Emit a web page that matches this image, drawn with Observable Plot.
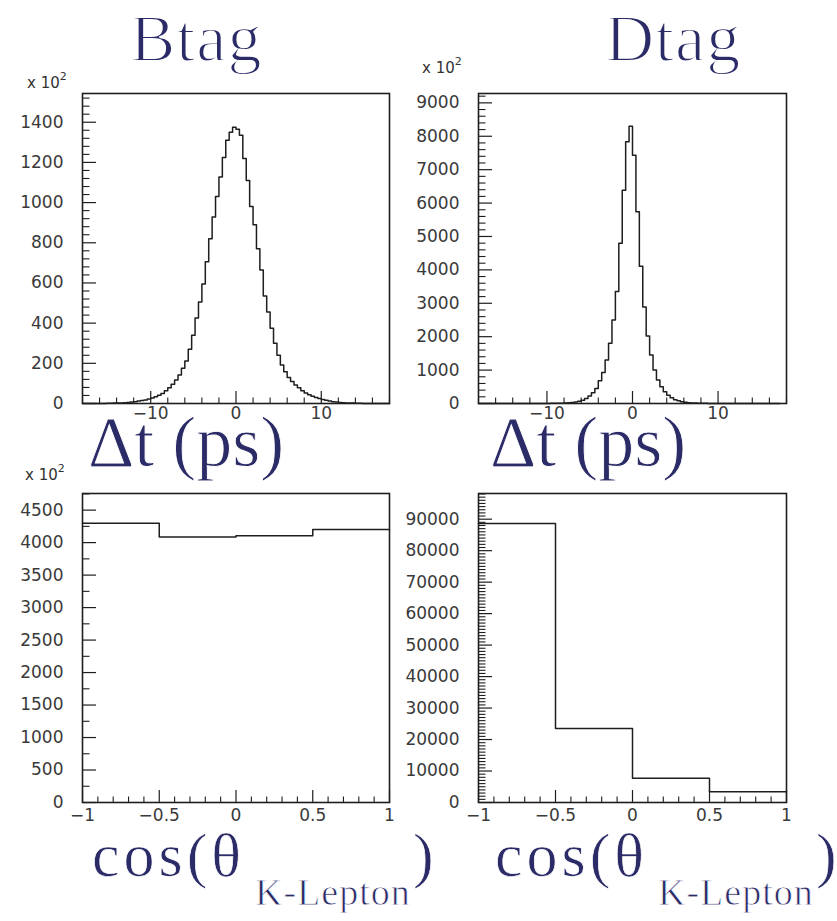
<!DOCTYPE html>
<html>
<head>
<meta charset="utf-8">
<script src="https://cdn.jsdelivr.net/npm/d3@7"></script>
<script src="https://cdn.jsdelivr.net/npm/@observablehq/plot@0.6"></script>
<style>
  html, body { margin: 0; padding: 0; background: #fff; }
  #page { position: relative; width: 837px; height: 921px; background: #fff; overflow: hidden; }
  .panel { position: absolute; }
  #overlay { position: absolute; left: 0; top: 0; pointer-events: none; }
</style>
</head>
<body>
<div id="page">
  <div class="panel" id="p1" style="left:0px;top:60px"></div>
  <div class="panel" id="p2" style="left:400px;top:60px"></div>
  <div class="panel" id="p3" style="left:0px;top:460px"></div>
  <div class="panel" id="p4" style="left:400px;top:460px"></div>
  <svg id="overlay" width="837" height="921">
    <g fill="#2b2b68" stroke="#ffffff" font-family="Liberation Serif, DejaVu Serif, serif">
      <text x="130" y="61" font-size="68" letter-spacing="1" stroke-width="1.8">Btag</text>
      <text x="605" y="61" font-size="68" letter-spacing="1" stroke-width="1.8">Dtag</text>
      <text x="88" y="466" font-size="72" stroke-width="0.9">Δt (ps)</text>
      <text x="490" y="466" font-size="72" stroke-width="0.9">Δt (ps)</text>
      <text x="92" y="876" font-size="62" letter-spacing="4" stroke-width="0.7">cos(θ</text>
      <text x="255" y="905" font-size="38" letter-spacing="1" stroke-width="0.8">K-Lepton</text>
      <text x="413" y="876" font-size="62" stroke-width="0.7">)</text>
      <text x="495" y="876" font-size="62" letter-spacing="4" stroke-width="0.7">cos(θ</text>
      <text x="658" y="905" font-size="38" letter-spacing="1" stroke-width="0.8">K-Lepton</text>
      <text x="816" y="876" font-size="62" stroke-width="0.7">)</text>
    </g>
    <g fill="#333" font-family="DejaVu Sans, sans-serif" font-size="15">
      <text x="27" y="88">x 10<tspan dy="-8" font-size="11">2</tspan></text>
      <text x="422" y="73">x 10<tspan dy="-8" font-size="11">2</tspan></text>
      <text x="25" y="480">x 10<tspan dy="-8" font-size="11">2</tspan></text>
    </g>
  </svg>
</div>
<script>
// ---- Data ----
const dtRange = [-18, 18];
const dtBinWidth = 0.4;

// Btag Δt histogram, counts in units of 10^2, 90 bins of 0.4 ps from -18 to 18
const btagDt = [
  0, 0, 0, 0, 0, 0, 0, 1, 1, 2, 2, 3, 4, 5, 7, 9, 12, 15, 18, 23, 28, 34, 41, 50, 63,
  78, 96, 117, 142, 175, 212, 270, 340, 425, 505, 595, 705, 820, 928, 1030, 1127, 1225, 1310, 1350, 1375,
  1365, 1335, 1220, 1110, 980, 890, 770, 665, 535, 455, 375, 300, 240, 192, 158, 130, 110, 92, 78, 64,
  52, 43, 36, 30, 25, 20, 16, 12, 9, 7, 5, 4, 3, 2, 2, 1, 1, 0, 0, 0, 0, 0, 0, 0, 0
];

// Dtag Δt histogram, counts in units of 10^2
const dtagDt = [
  0, 0, 0, 0, 0, 0, 0, 0, 0, 0, 0, 0, 0, 0, 0, 0,
  1, 1, 1, 2, 3, 4, 5, 8, 11, 16, 23, 33, 48, 70, 100, 150, 225, 320, 450, 680, 930, 1300, 1800, 2500,
  3350, 4800, 6385, 7833, 8302,
  7434, 5737, 4110, 2892, 2020, 1450, 1000, 700, 500, 350, 249, 170, 115, 80, 55, 38, 26, 18, 12, 8,
  6, 4, 3, 2, 1, 1, 1, 0, 0, 0, 0, 0, 0, 0, 0, 0, 0, 0, 0, 0, 0, 0, 0
];

// cos(theta K-lepton) histograms
const cosEdges = [-1, -0.5, 0, 0.5, 1];
const btagCos = [4300, 4085, 4105, 4200];   // units of 10^2
const dtagCos = [88630, 23500, 7730, 3390];

// Axis ticks / labels
const dtMajorTicks = [-10, 0, 10];
const cosMajorTicks = [-1, -0.5, 0, 0.5, 1];
const btagDtYTicks = [0, 200, 400, 600, 800, 1000, 1200, 1400];
const dtagDtYTicks = [0, 1000, 2000, 3000, 4000, 5000, 6000, 7000, 8000, 9000];
const btagCosYTicks = [0, 500, 1000, 1500, 2000, 2500, 3000, 3500, 4000, 4500];
const dtagCosYTicks = [0, 10000, 20000, 30000, 40000, 50000, 60000, 70000, 80000, 90000];

// ---- Helpers ----
function dtEdges(n) {
  return d3.range(n + 1).map(i => +(dtRange[0] + i * dtBinWidth).toFixed(2));
}
function stepPoints(edges, counts) {
  const pts = counts.map((c, i) => ({x: edges[i], y: c}));
  pts.push({x: edges[counts.length], y: counts[counts.length - 1]});
  return pts;
}
function minorTicks(lo, hi, step, majors) {
  const set = new Set(majors.map(v => +v.toFixed(4)));
  return d3.range(lo, hi + step / 2, step).map(v => +v.toFixed(4)).filter(v => !set.has(v) && v >= lo && v <= hi);
}

const ink = "#1e1e1e";
const labelInk = "#3a3a3a";
function panel(o) {
  return Plot.plot({
    width: o.width, height: o.height,
    marginLeft: o.ml, marginRight: o.mr, marginTop: o.mt, marginBottom: o.mb,
    style: {background: "transparent", overflow: "visible", maxWidth: "none",
            fontFamily: "DejaVu Sans, sans-serif", fontSize: "17px", color: ink},
    x: {domain: o.xDomain},
    y: {domain: o.yDomain},
    marks: [
      Plot.lineY(o.data, {x: "x", y: "y", curve: "step-after", stroke: ink, strokeWidth: 1.5}),
      Plot.axisX(o.xMajor, {anchor: "top", frameAnchor: "bottom", tickSize: 13, fill: "none", label: null, stroke: ink, strokeWidth: 1.2}),
      Plot.axisX(o.xMinor, {anchor: "top", frameAnchor: "bottom", tickSize: 6.5, fill: "none", label: null, stroke: ink, strokeWidth: 1.1}),
      Plot.axisX(o.xMajor, {anchor: "bottom", tickSize: 0, tickPadding: o.xPad, label: null, fill: labelInk, fontSize: 17, tickFormat: d3.format("~g")}),
      Plot.axisY(o.yMajor, {anchor: "right", frameAnchor: "left", tickSize: 13, fill: "none", label: null, stroke: ink, strokeWidth: 1.2}),
      Plot.axisY(o.yMinor, {anchor: "right", frameAnchor: "left", tickSize: 6.5, fill: "none", label: null, stroke: ink, strokeWidth: 1.1}),
      Plot.axisY(o.yMajor, {anchor: "left", tickSize: 0, tickPadding: 19, label: null, fill: labelInk, fontSize: 17, tickFormat: d3.format("d")}),
      Plot.frame({stroke: ink, strokeWidth: 1.6})
    ]
  });
}

const dtMinor = minorTicks(-18, 18, 2, dtMajorTicks);
const cosMinor = minorTicks(-1, 1, 0.1, cosMajorTicks);

document.getElementById("p1").append(panel({
  width: 410, height: 370, ml: 82, mr: 21, mt: 33, mb: 27, xPad: 3,
  xDomain: dtRange, yDomain: [0, 1543],
  data: stepPoints(dtEdges(btagDt.length), btagDt),
  xMajor: dtMajorTicks, xMinor: dtMinor,
  yMajor: btagDtYTicks, yMinor: minorTicks(0, 1540, 40, btagDtYTicks)
}));

document.getElementById("p2").append(panel({
  width: 420, height: 370, ml: 78, mr: 34, mt: 33, mb: 27, xPad: 3,
  xDomain: dtRange, yDomain: [0, 9280],
  data: stepPoints(dtEdges(dtagDt.length), dtagDt),
  xMajor: dtMajorTicks, xMinor: dtMinor,
  yMajor: dtagDtYTicks, yMinor: minorTicks(0, 9200, 200, dtagDtYTicks)
}));

document.getElementById("p3").append(panel({
  width: 410, height: 370, ml: 82, mr: 21, mt: 33, mb: 28, xPad: 6,
  xDomain: [-1, 1], yDomain: [0, 4756],
  data: stepPoints(cosEdges, btagCos),
  xMajor: cosMajorTicks, xMinor: cosMinor,
  yMajor: btagCosYTicks, yMinor: minorTicks(0, 4750, 250, btagCosYTicks)
}));

document.getElementById("p4").append(panel({
  width: 420, height: 370, ml: 78, mr: 34, mt: 33, mb: 28, xPad: 6,
  xDomain: [-1, 1], yDomain: [0, 98160],
  data: stepPoints(cosEdges, dtagCos),
  xMajor: cosMajorTicks, xMinor: cosMinor,
  yMajor: dtagCosYTicks, yMinor: minorTicks(0, 98000, 1000, dtagCosYTicks)
}));
</script>
</body>
</html>
